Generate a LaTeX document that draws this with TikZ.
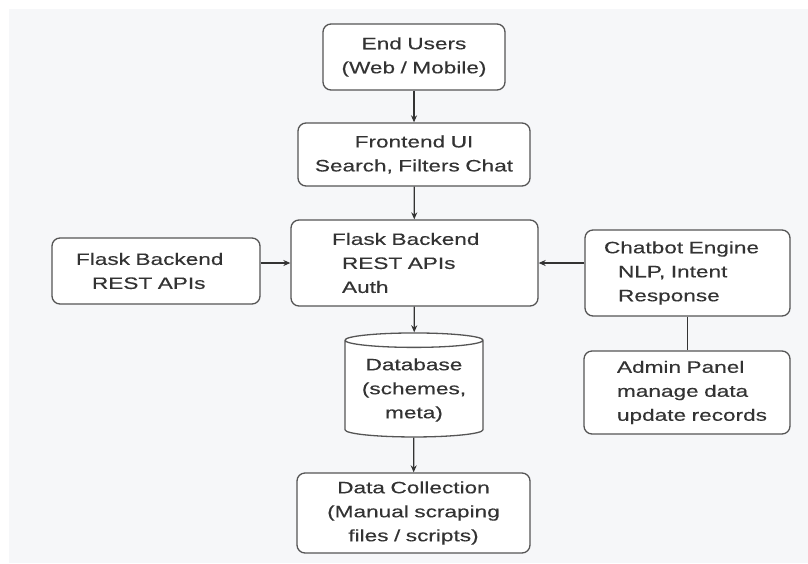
\documentclass[tikz,border=0pt]{standalone}
\usepackage{fontspec}
\setmainfont{Liberation Sans}[FakeStretch=1.37, FakeBold=0.3]
\usepackage{tikz}
\usetikzlibrary{arrows.meta, positioning, shapes.geometric}

\definecolor{bgfill}{HTML}{F6F7F9}
\definecolor{edge}{HTML}{555555}
\definecolor{ink}{HTML}{333333}

\begin{document}
\begin{tikzpicture}[
  x=1pt, y=-1pt,
  box/.style={draw=edge, line width=1.3pt, rounded corners=8pt, fill=white,
              text=ink, font=\fontsize{16.5}{24}\selectfont, inner ysep=4pt},
  dbbox/.style={cylinder, shape border rotate=90, shape aspect=0.13, draw=edge,
                line width=1.3pt, fill=white, text=ink, align=center,
                font=\fontsize{16.5}{24}\selectfont},
  arr/.style={-{Stealth[length=7pt, width=6pt]}, line width=1.2pt, draw=ink},
  link/.style={line width=1.2pt, draw=ink}
]
  \useasboundingbox (0,0) rectangle (808,563);
  \fill[white] (0,0) rectangle (808,563);
  \fill[bgfill] (9,9) rectangle (808,563);

  \node[box, align=center, minimum height=66pt, text width=162pt, inner xsep=10pt] (users) at (414,57)
    {End Users\\(Web / Mobile)};
  \node[box, align=center, minimum height=63pt, text width=212pt, inner xsep=10pt] (front) at (414,154.5)
    {Frontend UI\\Search, Filters Chat};
  \node[box, align=left, minimum height=86pt, text width=165pt, inner xsep=41pt] (backend) at (414.5,263)
    {Flask Backend\\\hspace*{10pt}REST APIs\\\hspace*{10pt}Auth};
  \node[box, align=left, minimum height=66pt, text width=160pt, inner xsep=24pt] (api) at (156,271)
    {Flask Backend\\\hspace*{16pt}REST APIs};
  \node[box, align=left, minimum height=86pt, text width=167pt, inner xsep=19pt] (chat) at (687.5,273)
    {Chatbot Engine\\\hspace*{14pt}NLP, Intent\\\hspace*{14pt}Response};
  \node[box, align=left, minimum height=83pt, text width=176pt, inner xsep=15pt] (admin) at (687,392.5)
    {\hspace*{18pt}Admin Panel\\\hspace*{18pt}manage data\\\hspace*{18pt}update records};
  \node[dbbox, minimum width=138pt, minimum height=104pt] (db) at (414,390)
    {Database\\(schemes,\\meta)};
  \node[box, align=center, minimum height=80pt, text width=213pt, inner xsep=10pt] (collect) at (413.5,513)
    {Data Collection\\(Manual scraping\\files / scripts)};

  \draw[arr] (users) -- (front);
  \draw[arr] (front) -- (backend);
  \draw[arr] (api.east |- backend.west) -- (backend.west);
  \draw[arr] (chat.west |- backend.east) -- (backend.east);
  \draw[arr] (backend) -- (db);
  \draw[arr] (db) -- (collect);
  \draw[link] (chat) -- (chat |- admin.north);
\end{tikzpicture}
\end{document}
